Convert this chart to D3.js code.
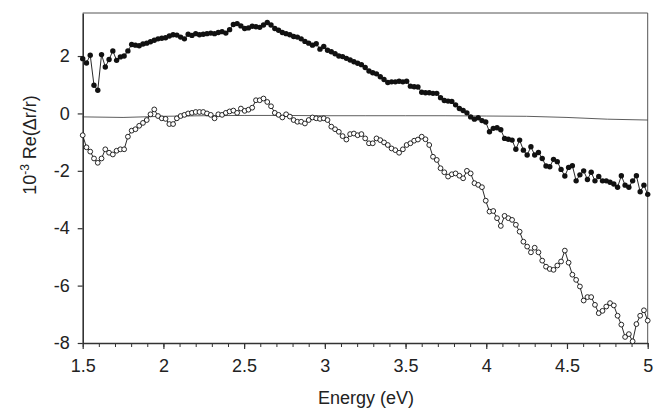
<!DOCTYPE html>
<html>
<head>
<meta charset="utf-8">
<script src="https://cdn.jsdelivr.net/npm/d3@7"></script>
<style>
  body { margin: 0; background: #fff; }
  svg { display: block; font-family: "Liberation Sans", Arial, sans-serif; }
  .axis text { font-size: 18px; fill: #222; }
  .axis path, .axis line { stroke: #333; }
</style>
</head>
<body>
<svg width="666" height="408"></svg>
<script>
// board size
var svg_w = 666, svg_h = 408;
var pad_left = 82.7, pad_right = 18.3, pad_top = 13, pad_bottom = 65;

// energy grid of the measurement (eV)
var e_start = 1.5, e_end = 5.0;

// filled circles, 10^-3 Re(dr/r)
var filled_vals = [
  1.91, 1.76, 2.03, 0.98, 0.81, 2.05, 1.62, 1.88, 2.18, 1.85, 1.97, 2.0, 2.18, 2.4,
  2.38, 2.36, 2.42, 2.45, 2.5, 2.55, 2.6, 2.62, 2.64, 2.7, 2.74, 2.73, 2.66, 2.6,
  2.76, 2.72, 2.78, 2.74, 2.76, 2.78, 2.8, 2.78, 2.82, 2.85, 2.8, 2.92, 3.1, 3.13,
  3.05, 2.96, 2.98, 3.04, 3.02, 3.0, 3.08, 3.17, 3.08, 2.96, 2.9, 2.82, 2.78, 2.74,
  2.68, 2.66, 2.6, 2.51, 2.45, 2.38, 2.43, 2.24, 2.33, 2.2, 2.15, 2.08, 2.0, 1.98,
  1.92, 1.86, 1.8, 1.75, 1.7, 1.6, 1.48, 1.42, 1.38, 1.28, 1.18, 1.08, 1.1, 1.1,
  1.12, 1.1, 1.12, 0.95, 0.93, 0.92, 0.74, 0.72, 0.72, 0.7, 0.7, 0.55, 0.45, 0.43,
  0.42, 0.3, 0.17, 0.1, 0.02, -0.12, -0.2, -0.15, -0.25, -0.3, -0.64, -0.52, -0.5,
  -0.57, -0.87, -0.9, -0.93, -1.25, -0.93,
  -1.28, -1.45, -1.16, -1.45, -1.36, -1.57, -1.83, -1.86, -1.6, -1.68, -1.95, -2.18,
  -1.88, -1.82, -2.35, -2.14, -2.0, -2.3, -2.05, -2.35, -2.2, -2.35, -2.35, -2.4,
  -2.46, -2.57, -2.17, -2.5, -2.57, -2.35, -2.17, -2.73, -2.5, -2.82
];

// open circles, 10^-3 Re(dr/r)
var open_vals = [
  -0.76, -1.18, -1.33, -1.57, -1.72, -1.57, -1.25, -1.37, -1.43, -1.3, -1.25, -1.25,
  -0.81, -0.6, -0.55, -0.43, -0.33, -0.23, -0.03, 0.14, -0.09, -0.17, -0.19, -0.37,
  -0.37, -0.17, -0.09, -0.05, 0.0, 0.02, 0.05, 0.05, 0.05, 0.0, -0.05, -0.17, -0.03,
  -0.05, 0.02,
  0.07, 0.1, 0.02, 0.17, 0.09, 0.13, 0.2, 0.46, 0.46, 0.52, 0.4, 0.25, 0.02, -0.05,
  -0.14, -0.03, -0.11, -0.23, -0.29, -0.29, -0.35, -0.23, -0.14, -0.17, -0.19, -0.17,
  -0.23, -0.46, -0.55, -0.64, -0.79, -0.91, -0.72, -0.7, -0.76, -0.72, -0.87, -1.04,
  -1.04,
  -0.87, -0.93, -1.01, -1.1, -1.22, -1.28, -1.37, -1.25, -1.1, -1.04, -0.95, -0.91,
  -0.81, -0.9, -1.1, -1.51, -1.62, -1.91, -2.05, -2.2, -2.12, -2.09, -2.17, -2.26,
  -2.0, -2.09, -2.43, -2.49, -2.57, -3.04, -3.42, -3.4, -3.65, -3.92, -3.57, -3.65,
  -3.71, -3.88, -4.12,
  -4.47, -4.64, -4.84, -4.68, -4.84, -5.13, -5.34, -5.42, -5.45, -5.3, -5.16, -4.78,
  -5.2, -5.62, -5.8, -6.03, -6.52, -6.4, -6.4, -6.67, -6.96, -6.88, -6.73, -6.61,
  -6.69, -7.05, -7.36, -7.79, -7.69, -7.94, -7.34, -7.05, -6.86, -7.22
];

// thin reference line (no markers)
var ref_e = [1.5, 1.75, 2.0, 2.25, 2.5, 2.75, 3.0, 3.25, 3.5, 3.75, 4.0, 4.25, 4.5, 4.75, 5.0];
var ref_vals = [-0.12, -0.14, -0.1, -0.08, -0.07, -0.07, -0.08, -0.08, -0.08, -0.08, -0.09, -0.1, -0.14, -0.2, -0.23];

// tick values
var x_ticks = [1.5, 2, 2.5, 3, 3.5, 4, 4.5, 5];
var x_minor = d3.range(15, 51).map(function(d){ return d / 10; });
var y_ticks = [-8, -6, -4, -2, 0, 2];

var svg = d3.select("svg").attr("width", svg_w).attr("height", svg_h);

var x_scale = d3.scaleLinear().domain([e_start, e_end]).range([pad_left, svg_w - pad_right]);
var y_scale = d3.scaleLinear().domain([-8, 3.5]).range([svg_h - pad_bottom, pad_top]);

// energy of sample i on a uniform grid
function to_points(vals){
  var step = (e_end - e_start) / (vals.length - 1);
  return vals.map(function(v, i){ return {e: e_start + i * step, v: v}; });
}
var filled_pts = to_points(filled_vals);
var open_pts = to_points(open_vals);
var ref_pts = ref_e.map(function(e, i){ return {e: e, v: ref_vals[i]}; });

// frame (top and right)
svg.append("path")
  .attr("d", "M" + x_scale(e_start) + "," + y_scale(3.5) + "H" + x_scale(e_end) + "V" + y_scale(-8))
  .attr("fill", "none").attr("stroke", "#555").attr("stroke-width", 1);

// x minor ticks
var x_minor_axis = d3.axisBottom(x_scale).tickValues(x_minor).tickSize(4).tickFormat("").tickSizeOuter(0);
svg.append("g").attr("class", "axis")
  .attr("transform", "translate(0," + y_scale(-8) + ")").call(x_minor_axis)
  .call(function(g){ g.select(".domain").remove(); g.selectAll("line").attr("stroke-width", 1); });

// x axis
var x_axis = d3.axisBottom(x_scale).tickValues(x_ticks).tickSize(6).tickPadding(10)
  .tickFormat(d3.format("")).tickSizeOuter(0);
svg.append("g").attr("class", "axis")
  .attr("transform", "translate(0," + y_scale(-8) + ")").call(x_axis)
  .call(function(g){
    g.select(".domain").attr("stroke-width", 1.6);
    g.selectAll("line").attr("stroke-width", 1.2);
  });

// y axis
var y_axis = d3.axisLeft(y_scale).tickValues(y_ticks).tickSize(5).tickPadding(8)
  .tickFormat(d3.format("")).tickSizeOuter(0);
svg.append("g").attr("class", "axis")
  .attr("transform", "translate(" + pad_left + ",0)").call(y_axis)
  .call(function(g){
    g.select(".domain").attr("stroke-width", 1.6);
    g.selectAll("line").attr("stroke-width", 1.2);
    g.selectAll("text").text(function(d){ return d < 0 ? "-" + (-d) : d; });
  });

var line = d3.line().x(function(d){ return x_scale(d.e); }).y(function(d){ return y_scale(d.v); });

// reference line
svg.append("path").datum(ref_pts).attr("d", line)
  .attr("fill", "none").attr("stroke", "#333").attr("stroke-width", 0.8);

// filled series
svg.append("path").datum(filled_pts).attr("d", line)
  .attr("fill", "none").attr("stroke", "#111").attr("stroke-width", 0.9);
svg.append("g").selectAll("circle").data(filled_pts).enter().append("circle")
  .attr("cx", function(d){ return x_scale(d.e); })
  .attr("cy", function(d){ return y_scale(d.v); })
  .attr("r", 2.7).attr("fill", "#111");

// open series
svg.append("path").datum(open_pts).attr("d", line)
  .attr("fill", "none").attr("stroke", "#111").attr("stroke-width", 0.9);
svg.append("g").selectAll("circle").data(open_pts).enter().append("circle")
  .attr("cx", function(d){ return x_scale(d.e); })
  .attr("cy", function(d){ return y_scale(d.v); })
  .attr("r", 2.4).attr("fill", "#fff").attr("stroke", "#111").attr("stroke-width", 0.9);

// axis titles
svg.append("text").attr("x", 366).attr("y", 404).attr("text-anchor", "middle")
  .attr("font-size", 18).attr("fill", "#222").text("Energy (eV)");

var yt = svg.append("text").attr("transform", "translate(36,145) rotate(-90)")
  .attr("text-anchor", "middle").attr("font-size", 18).attr("fill", "#222");
yt.append("tspan").text("10");
yt.append("tspan").attr("dy", -7).attr("font-size", 12).text("-3");
yt.append("tspan").attr("dy", 7).text(" Re(\u0394r/r)");
</script>
</body>
</html>
